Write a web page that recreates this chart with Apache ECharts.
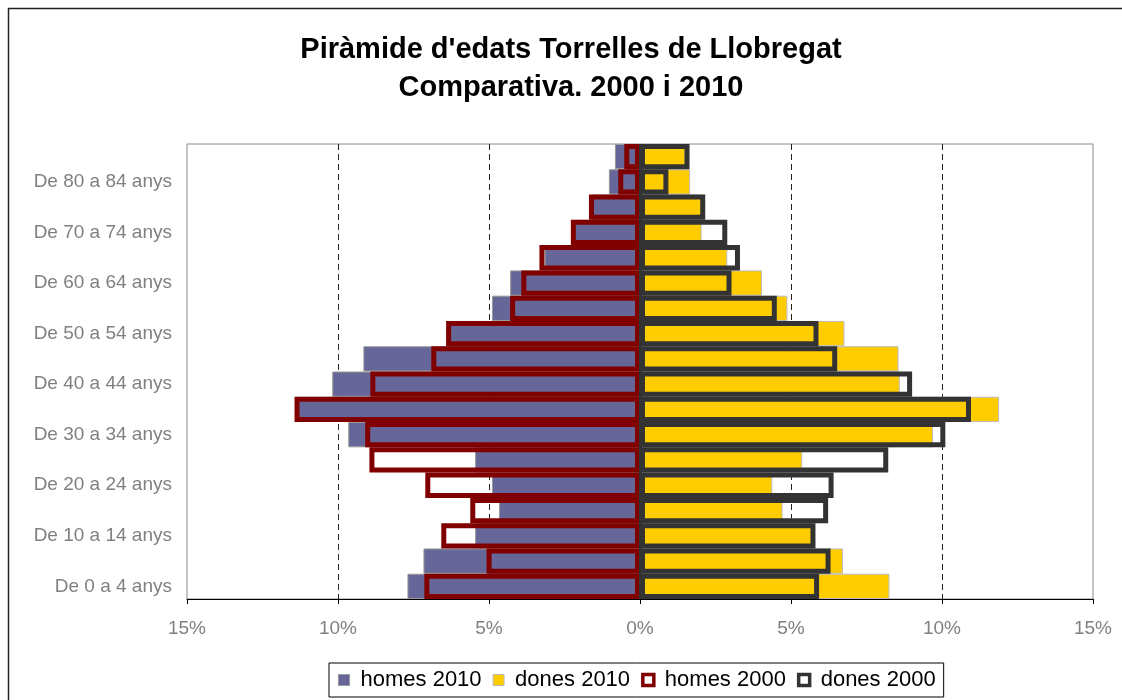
<!DOCTYPE html>
<html>
<head>
<meta charset="utf-8">
<script src="https://cdn.jsdelivr.net/npm/echarts@6/dist/echarts.min.js"></script>
<style>
  html, body { margin: 0; padding: 0; background: #fff; }
  #piramide { width: 1122px; height: 700px; }
</style>
</head>
<body>
<div id="piramide"></div>
<script>
// grups d'edat, de baix a dalt
var edats = [
  'De 0 a 4 anys', 'De 5 a 9 anys', 'De 10 a 14 anys', 'De 15 a 19 anys',
  'De 20 a 24 anys', 'De 25 a 29 anys', 'De 30 a 34 anys', 'De 35 a 39 anys',
  'De 40 a 44 anys', 'De 45 a 49 anys', 'De 50 a 54 anys', 'De 55 a 59 anys',
  'De 60 a 64 anys', 'De 65 a 69 anys', 'De 70 a 74 anys', 'De 75 a 79 anys',
  'De 80 a 84 anys', 'De 85 i més anys'
];
// percentatges sobre el total
var homes2010 = [7.7, 7.17, 5.46, 4.67, 4.9, 5.46, 9.66, 11.4, 10.19, 9.16, 6.4, 4.9, 4.3, 3.16, 2.19, 1.6, 1.03, 0.83];
var dones2010 = [8.26, 6.72, 5.74, 4.72, 4.38, 5.37, 9.7, 11.89, 8.6, 8.56, 6.77, 4.88, 4.04, 2.89, 2.04, 2.1, 1.66, 1.51];
var homes2000 = [7.14, 5.08, 6.58, 5.62, 7.11, 8.96, 9.1, 11.44, 8.93, 6.91, 6.42, 4.3, 3.93, 3.33, 2.29, 1.69, 0.72, 0.52];
var dones2000 = [5.93, 6.31, 5.81, 6.23, 6.41, 8.22, 10.11, 10.96, 9.01, 6.53, 5.91, 4.53, 3.03, 3.31, 2.89, 2.16, 0.94, 1.64];
var ticksX = [-15, -10, -5, 0, 5, 10, 15];

var font = "'Liberation Sans', Arial, sans-serif";

function negatiu(arr) {
  return arr.map(function (v) { return -v; });
}

var myChart = echarts.init(document.getElementById('piramide'));
myChart.setOption({
  animation: false,
  backgroundColor: '#fff',
  title: {
    text: "Piràmide d'edats Torrelles de Llobregat\nComparativa. 2000 i 2010",
    left: 571,
    top: 31,
    padding: 0,
    textAlign: 'center',
    textStyle: {
      fontFamily: font,
      fontSize: 29,
      fontWeight: 'bold',
      color: '#000',
      lineHeight: 38
    }
  },
  graphic: [{
    type: 'rect',
    shape: { x: 8.5, y: 8.5, width: 1200, height: 800 },
    style: { fill: 'none', stroke: '#222', lineWidth: 1.5 },
    silent: true
  }],
  legend: {
    left: 329,
    top: 663,
    padding: [6, 8, 6, 9],
    itemGap: 11,
    itemWidth: 11,
    itemHeight: 11,
    borderColor: '#000',
    borderWidth: 1,
    backgroundColor: '#fff',
    textStyle: { fontFamily: font, fontSize: 22, color: '#000', padding: [0, 0, 0, 6] },
    data: [
      { name: 'homes 2010', icon: 'rect', itemStyle: { color: '#666699', borderColor: '#999', borderWidth: 1 } },
      { name: 'dones 2010', icon: 'rect', itemStyle: { color: '#FFCC00', borderColor: '#bbb', borderWidth: 1 } },
      { name: 'homes 2000', icon: 'rect', itemStyle: { color: '#fff', borderColor: '#800000', borderWidth: 3.5 } },
      { name: 'dones 2000', icon: 'rect', itemStyle: { color: '#fff', borderColor: '#333333', borderWidth: 3.5 } }
    ]
  },
  grid: {
    left: 187,
    right: 29,
    top: 144,
    bottom: 101,
    show: true,
    borderColor: '#888',
    borderWidth: 1
  },
  xAxis: {
    type: 'value',
    min: ticksX[0],
    max: ticksX[ticksX.length - 1],
    interval: 5,
    axisLine: { show: true, onZero: false, lineStyle: { color: '#000', width: 1 } },
    axisTick: { show: true, length: 5, lineStyle: { color: '#000' } },
    axisLabel: {
      fontFamily: font,
      fontSize: 19,
      color: '#808080',
      margin: 20,
      formatter: function (v) { return Math.abs(v) + '%'; }
    },
    splitLine: {
      show: true,
      lineStyle: {
        color: ticksX.map(function (t) { return (t === 0 || Math.abs(t) === 15) ? 'rgba(0,0,0,0)' : '#222'; }),
        type: [6, 4],
        width: 1
      }
    }
  },
  yAxis: {
    type: 'category',
    data: edats,
    axisLine: { show: false },
    axisTick: { show: false },
    splitLine: { show: false },
    axisLabel: {
      interval: 1,
      fontFamily: font,
      fontSize: 19,
      color: '#808080',
      margin: 15,
      lineHeight: 19,
      padding: [4, 0, 0, 0]
    }
  },
  series: [
    {
      name: 'homes 2010',
      type: 'bar',
      data: negatiu(homes2010),
      barGap: '-100%',
      barCategoryGap: '0%',
      itemStyle: { color: '#666699', borderColor: '#999', borderWidth: 1 }
    },
    {
      name: 'dones 2010',
      type: 'bar',
      data: dones2010,
      barGap: '-100%',
      barCategoryGap: '0%',
      itemStyle: { color: '#FFCC00', borderColor: '#bbb', borderWidth: 1 }
    },
    {
      name: 'homes 2000',
      type: 'bar',
      data: negatiu(homes2000),
      barGap: '-100%',
      barCategoryGap: '0%',
      itemStyle: { color: 'rgba(0,0,0,0)', borderColor: '#800000', borderWidth: 5 }
    },
    {
      name: 'dones 2000',
      type: 'bar',
      data: dones2000,
      barGap: '-100%',
      barCategoryGap: '0%',
      itemStyle: { color: 'rgba(0,0,0,0)', borderColor: '#333333', borderWidth: 5 },
      markLine: {
        silent: true,
        symbol: 'none',
        label: { show: false },
        lineStyle: { color: '#333', width: 3, type: 'solid' },
        data: [{ xAxis: 0 }]
      }
    }
  ]
});
</script>
</body>
</html>
